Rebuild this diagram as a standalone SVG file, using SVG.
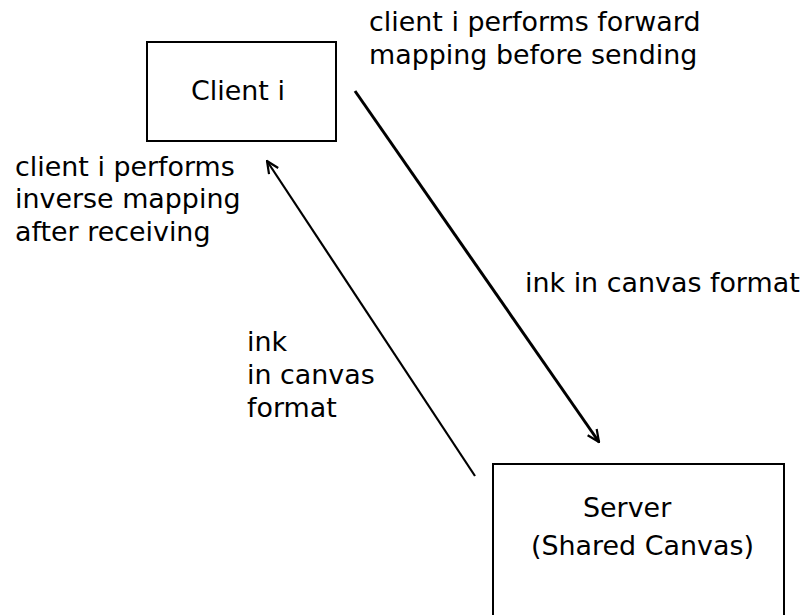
<svg xmlns="http://www.w3.org/2000/svg" width="804" height="615" viewBox="0 0 804 615">
<defs>
<style>
text{font-family:"DejaVu Sans",sans-serif;font-size:26.9px;fill:#000}
.box{fill:#fff;stroke:#000;stroke-width:2}
.edge{fill:none;stroke:#000}
</style>
<marker id="ah" viewBox="0 0 14 14" refX="13" refY="7" markerWidth="14" markerHeight="14" markerUnits="userSpaceOnUse" orient="auto">
<path d="M1,1.5 L13,7 L1,12.5" fill="none" stroke="#000" stroke-width="2.2"/>
</marker>
</defs>
<rect width="804" height="615" fill="#fff"/>
<g id="client">
<rect class="box" x="147" y="42" width="189" height="99"/>
<text x="191" y="100">Client i</text>
</g>
<g id="server">
<rect class="box" x="493" y="464" width="291" height="160"/>
<text x="583" y="517">Server</text>
<text x="531" y="555">(Shared Canvas)</text>
</g>
<g id="connectors">
<line class="edge" x1="355" y1="91" x2="599" y2="442" stroke-width="3" marker-end="url(#ah)"/>
<line class="edge" x1="475" y1="476" x2="267" y2="161" stroke-width="2.2" marker-end="url(#ah)"/>
</g>
<g id="labels">
<text x="369" y="31">client i performs forward</text>
<text x="369" y="64">mapping before sending</text>
<text x="15" y="176">client i performs</text>
<text x="15" y="208">inverse mapping</text>
<text x="15" y="241">after receiving</text>
<text x="525" y="292">ink in canvas format</text>
<text x="247" y="351">ink</text>
<text x="247" y="384">in canvas</text>
<text x="247" y="417">format</text>
</g>
</svg>
